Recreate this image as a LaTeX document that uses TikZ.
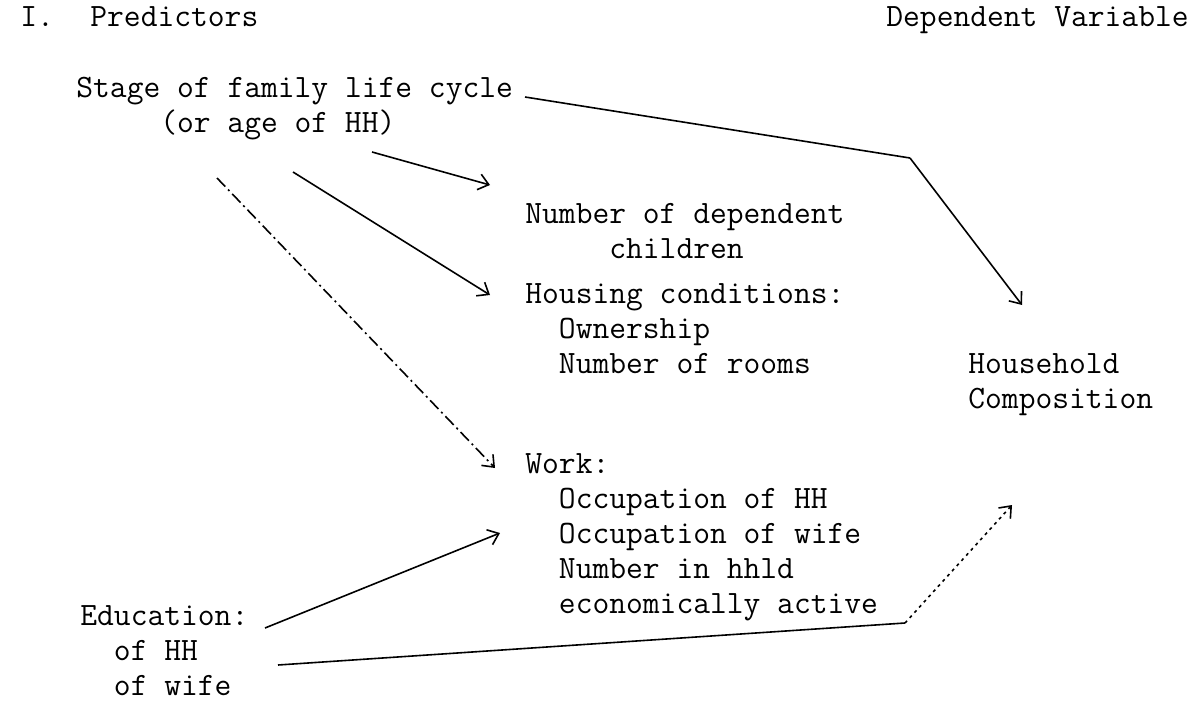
\documentclass[tikz,border=0pt]{standalone}
\usepackage{fontspec}
\usetikzlibrary{arrows.meta,calc}

\begin{document}
\begin{tikzpicture}[x=0.5pt,y=-0.5pt,>={Straight Barb[length=5pt,width=8pt]},
 txt/.style={anchor=base west,inner sep=0pt,align=left,
   font=\ttfamily\fontsize{16.3}{17.5}\selectfont},
 link/.style={->,line width=0.8pt},
 dashdot/.style={dash pattern=on 6pt off 2pt on 1pt off 2pt},
 dots/.style={dash pattern=on 1.5pt off 2pt}]
 \useasboundingbox (0,0) rectangle (1202,701);

 % headings
 \node[txt] (num) at (20,27) {I.};
 \node[txt] (pred) at (90,27) {Predictors};
 \node[txt] (depvar) at (886,27) {Dependent Variable};

 % predictors and intervening variables (base = last line)
 \node[txt] (stage) at (76,133) {Stage of family life cycle\\\hphantom{xxxxx}(or age of HH)};
 \node[txt] (child) at (525,258) {Number of dependent\\\hphantom{xxxxx}children};
 \node[txt] (house) at (525,373) {Housing conditions:\\\hphantom{xx}Ownership\\\hphantom{xx}Number of rooms};
 \node[txt] (hhcomp) at (968,408) {Household\\Composition};
 \node[txt] (work) at (525,613) {Work:\\\hphantom{xx}Occupation of HH\\\hphantom{xx}Occupation of wife\\\hphantom{xx}Number in hhld\\\hphantom{xx}economically active};
 \node[txt] (educ) at (80,695) {Education:\\\hphantom{xx}of HH\\\hphantom{xx}of wife};

 % bends
 \coordinate (bendA) at (910,158);
 \coordinate (bendB) at (905,623);

 % arrows
 \draw[line width=0.8pt] ($(stage.base west)+(449,-36)$) -- (bendA);
 \draw[link] (bendA) -- ($(hhcomp.base west)+(54,-103)$);
 \draw[link] ($(stage.base west)+(296,19)$) -- ($(child.base west)+(-35,-73)$);
 \draw[link] ($(stage.base west)+(217,39)$) -- ($(house.base west)+(-35,-78)$);
 \draw[link,dashdot] ($(stage.base west)+(141,45)$) -- ($(work.base west)+(-30,-145)$);
 \draw[link] ($(educ.base west)+(185,-67)$) -- ($(work.base west)+(-25,-80)$);
 \draw[line width=0.8pt] ($(educ.base west)+(198,-30)$) -- (bendB);
 \draw[link,dots] (bendB) -- ($(hhcomp.base west)+(44,97)$);
\end{tikzpicture}
\end{document}
